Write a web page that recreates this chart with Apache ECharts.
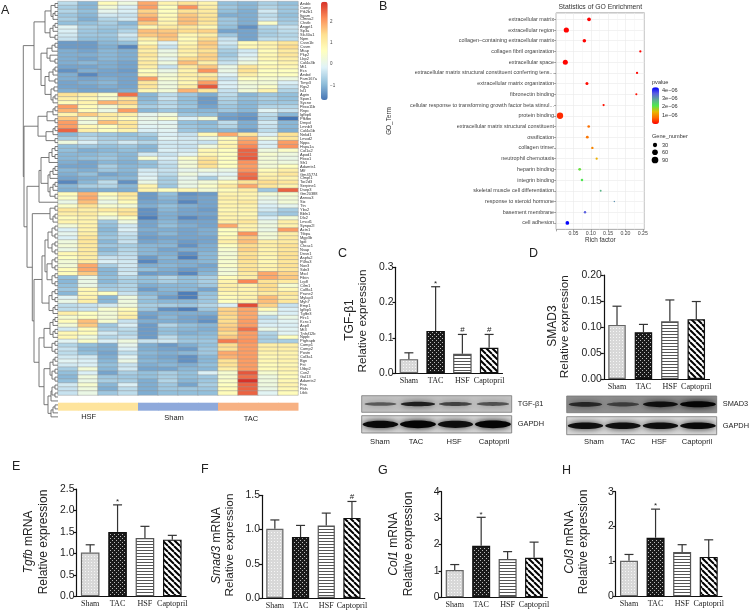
<!DOCTYPE html>
<html><head><meta charset="utf-8">
<style>html,body{margin:0;padding:0;background:#fff}#c{width:753px;height:612px}</style>
<script src="https://cdn.jsdelivr.net/npm/echarts@6/dist/echarts.min.js"></script>
</head><body><div id="c"></div>
<script>
// ---------- data ----------
const genes=["Arsbb","Camp","Ptk2b1","Itgam","Clmsa2","Chstb","Angpt1","Sp3a","Slc40a1","Npm","Cssn1b","Cssm","Mtap","Pkp2","Lbp2","Col4a3b","Mt1","Ecs","Arsbd","Fam167a","Timp3","Rgs2","Isl1","Agrin","Spon1","Sycne","Fbxo11b","Rnpc","Igfbp6","Pfkfbn","Dmpd","Lmnb3","Col4a5b","Nnkd1","Lmod2","Nppa","Hspa1a","Col1a2","Apod1","Fbxo1","Sfr1","Adamts1","Mlf","Gm45774","Clmpl1","Tor2d3","Serpine1","Dsep3","Gm20388","Annxa3","Six","Ttn","Ybx2","Bbln1","Dlx2","Lmcd1","Synpo2l","Actn1","Ttbpa","Mgp3b","Igdi","Chrac1","Nsap","Dnsn1","Aspfa2","P4ha3","Nov3","Sdn3","Mscl","Fibin","Lrp8","Cilm1","Col8a1","Prune2","Mylap3","Myh7","Emp1","Igfbp5","Tgfbr3","Flrc1","Kcnc1","Aspll","Mt3","Tnfsf12b","Nppb","Ptgfrapb","Comp1","Comp2","Postn","Col3a1","Bgn","Fst","Utbp2","Cxn2","Gal13","Adamts2","Fns","Fbln","Ltbk"];
const heatRows=[
[-.5,-1.0,.7,.2,1.9,.9,1.3,.9,-.9,-1.0,-.7,-.9],
[-.7,-1.0,.3,-.2,2.0,.6,2.1,1.0,-.8,-1.0,-.6,-.8],
[-.6,-.9,.0,-.2,1.5,.6,1.3,1.1,-.9,-1.1,-.3,-.8],
[-.8,-1.0,-.3,-.4,1.7,.7,1.6,1.2,-1.1,-1.1,-.5,-.9],
[-.7,-1.1,-.6,-.3,2.0,.8,1.7,1.3,-.8,-1.1,-.4,-.8],
[-.9,-.9,-.7,-1.0,1.6,.9,1.7,1.2,-.8,-1.1,.5,-.7],
[-.1,-.7,-.8,-.8,.8,1.1,1.2,.8,-.9,-1.4,-.6,-.4],
[-.2,-.8,-.9,-.6,1.7,1.6,1.4,1.5,-1.2,-1.2,-.7,-.5],
[-.3,-.8,-.8,-.3,1.6,1.7,.8,1.0,-.8,-1.2,-.7,-.6],
[-.4,-.9,-.9,-.5,1.0,1.6,.7,1.4,-.4,-1.2,-.5,-.5],
[-1.3,-1.3,-1.0,-.9,.7,-.1,.8,1.6,-.3,.7,.9,1.2],
[-1.3,-1.3,-1.1,-1.5,1.2,-.4,1.0,1.5,-.5,.8,.9,1.4],
[-1.1,-1.2,-1.0,-1.1,1.0,.1,1.0,1.3,-.7,-.3,.7,1.1],
[-1.1,-1.1,-1.0,-1.1,1.2,.2,.9,1.5,-.8,-.2,.8,1.2],
[-1.1,-1.2,-1.0,-1.1,1.0,.0,1.4,1.5,-.6,.0,.8,1.0],
[-1.1,-1.0,-1.1,-1.2,1.1,.2,1.7,1.0,-.4,.2,.6,.9],
[-1.2,-1.2,-1.1,-1.2,1.0,-.4,1.1,1.6,.1,1.2,.8,.8],
[-1.4,-1.1,-1.2,-1.3,.6,.1,.9,2.1,.1,1.3,.6,.6],
[-1.1,-1.5,-1.2,-1.2,.8,.3,1.0,1.0,-.1,1.0,.6,.6],
[-1.1,-1.2,-1.1,-1.2,2.0,.4,.9,1.4,-.4,.6,.4,.2],
[-1.2,-1.1,-1.0,-1.2,1.2,.2,.8,2.0,-.2,.3,.3,-.2],
[-1.2,-1.2,-1.1,-1.2,1.2,.2,1.0,2.6,-.2,.2,.5,-.4],
[-1.1,-1.2,-1.2,-1.1,.8,.3,1.8,1.2,-.4,.3,.9,-.6],
[1.3,1.0,.5,2.4,-1.0,-.5,-.8,-1.1,-.5,-1.0,-.8,-.9],
[1.0,.8,.4,1.3,-1.0,-.4,-.9,-1.3,-.6,-.9,-.7,-.9],
[.7,.9,1.8,1.5,-.9,-.6,-.9,-1.3,-.7,-1.0,-.8,-.8],
[2.0,.7,.3,1.0,-.7,-.5,-.8,-1.2,-.8,-1.0,-.6,-.6],
[1.8,.7,.1,2.0,-1.0,-.8,-1.0,-1.0,-.8,-1.0,-.1,-.4],
[.9,1.6,1.1,1.0,.0,.2,-.8,-.9,-1.2,-1.3,-.5,-1.0],
[1.6,.4,1.0,.7,.1,.5,-.2,.3,-1.3,-1.4,-.6,-1.7],
[2.0,.2,1.7,1.2,.0,-.1,-.9,-1.0,-.5,-1.1,-.3,-1.0],
[2.0,.8,.6,1.2,-.1,.0,-.8,-.9,-.6,-1.1,-.4,-1.0],
[2.5,1.0,.6,.9,-.2,-.1,-.8,-1.0,-1.0,-1.3,-.5,-1.1],
[-1.0,-.7,-.8,-.9,-.7,-.2,-.4,.8,1.9,1.2,-.2,1.3],
[-.7,-.5,-.7,-.8,-.9,-.1,-.3,.1,.7,1.8,.3,1.2],
[.2,-.2,-.6,-.3,-.6,-.3,-.3,-.4,.8,2.0,-.2,2.0],
[-.9,-.8,-.9,-.8,-1.0,-.3,-.4,.2,.9,2.2,-.2,2.1],
[-.9,-1.1,-1.0,-.9,-1.0,-.2,-.3,.8,.6,2.5,.2,.5],
[-1.0,-1.0,-.9,-1.0,-.3,-.4,-.1,.8,.6,2.5,.4,.2],
[-1.0,-.9,-.8,-1.0,.4,-.2,.5,1.2,.6,2.6,.3,.1],
[-1.1,-1.2,-1.0,-1.1,-.9,-.4,.3,1.4,.6,2.1,.3,.2],
[-1.2,-1.2,-.7,-1.0,-.9,-.5,.3,1.3,.6,2.0,.3,.6],
[-1.0,-1.1,-.8,-1.0,-.3,-.4,.0,.2,.1,2.1,.7,1.0],
[-1.1,-.9,-1.2,-1.1,-.2,-.5,.2,-.1,-.1,2.4,.9,1.2],
[-1.2,-1.1,-1.0,-1.0,-.1,-.7,.0,-.7,.1,2.5,1.0,.9],
[-1.5,-1.0,-.5,-1.4,.1,-.7,.1,.3,.7,1.3,1.4,1.2],
[-1.0,-.7,-.6,-1.0,.9,-.8,.1,.5,1.1,1.9,1.2,.9],
[-1.1,-1.1,-1.1,-1.1,.9,.6,.8,.3,.7,1.0,-.8,2.5],
[.7,1.8,.7,1.2,-1.3,-.9,-1.4,-1.3,.9,.9,.3,.4],
[.5,1.9,.4,1.0,-1.3,-1.0,-1.3,-1.2,1.0,.9,.1,.3],
[.1,1.7,.1,.7,-1.2,-1.1,-1.5,-1.2,.9,1.1,.0,.3],
[.5,1.3,.4,.3,-1.1,-.9,-1.1,-1.2,.9,.9,-.2,.0],
[1.2,1.0,1.1,1.2,-1.4,-1.0,-1.2,-1.3,.8,.9,-.3,-.7],
[1.0,1.1,.7,1.3,-1.4,-1.1,-1.2,-1.2,.9,.8,-.6,-.8],
[.7,.9,.2,.6,-1.6,-1.1,-1.5,-1.3,.9,.9,-.2,.3],
[.9,.9,-.8,.2,-1.2,-1.0,-1.2,-1.2,1.0,1.2,.1,1.0],
[.3,.9,-.9,-.3,-1.2,-.9,-1.1,-1.2,1.9,.9,.2,.9],
[-.2,.9,-1.0,-.2,-1.1,-1.1,-1.2,-1.1,.6,.9,.1,2.0],
[.0,1.0,-.9,-.4,-1.2,-1.0,-1.2,-1.1,.6,2.1,.3,1.0],
[-.2,1.2,-.8,-.5,-1.3,-1.2,-1.2,-1.2,.8,1.6,.3,1.1],
[.2,1.2,-1.0,-.4,-1.2,-1.1,-1.3,-1.2,1.0,1.7,1.0,1.1],
[.3,1.1,-.8,-.7,-1.0,-1.0,-1.4,-1.1,.6,1.4,1.0,1.3],
[.1,1.1,-1.0,-.6,-1.0,-1.2,-1.1,-1.1,.4,1.5,.9,1.2],
[.8,1.1,-.8,-.5,-1.0,-1.1,-1.4,-1.0,.3,1.3,.9,1.3],
[.6,1.0,-.4,-.4,-1.3,-1.0,-1.6,-1.0,.4,1.4,.8,1.3],
[.3,1.1,-.2,-.3,-1.5,-1.1,-1.1,-1.0,.4,1.3,.8,1.2],
[.3,1.9,-.7,-.3,-1.1,-1.0,-1.1,-1.2,.5,1.2,.9,1.3],
[.7,1.9,-1.0,-.4,-.9,-1.1,-1.3,-1.1,.3,1.3,.9,1.2],
[.7,1.6,-1.0,-.3,-1.3,-1.2,-1.5,-1.0,.3,1.1,1.9,1.5],
[-.9,.1,-.9,-.6,-.9,-.6,-.9,-.7,.7,1.0,1.9,1.6],
[-1.0,.1,-1.0,-.7,-.9,-.7,-.9,-.7,.9,2.2,1.3,1.1],
[-.9,.1,-.8,-.6,-1.1,-1.0,-1.0,-.8,1.0,.9,1.4,.4],
[-.8,.8,-.7,-.6,-1.3,-1.0,-1.0,-1.2,1.0,.9,1.4,.8],
[-1.0,.8,.6,-.4,-1.0,-1.1,-1.6,-.9,.8,.9,1.1,1.2],
[-.1,.9,-1.0,.2,-.8,-1.3,-1.6,-.8,.7,.9,1.7,1.0],
[.1,1.0,-1.0,.2,-.9,-1.0,-1.0,-.8,.6,.9,1.7,1.2],
[-.5,-.4,-.3,.2,-.7,-.7,-.8,-.6,-.2,2.7,1.5,-.4],
[-.5,-.4,.4,.7,-.8,-1.4,-1.6,-.8,1.5,1.9,.7,-.2],
[1.0,.6,.3,.9,-1.2,-1.1,-1.1,-1.1,1.5,1.9,.2,-.2],
[.4,.6,.3,1.0,-1.3,-1.0,-1.2,-1.3,1.4,1.9,-.5,.1],
[.7,1.7,.4,-.4,-1.1,-1.1,-1.2,-1.4,1.4,2.0,-.3,-.1],
[.3,1.6,-.8,-.2,-1.3,-.6,-.9,-1.0,1.5,2.0,-.2,-.2],
[-.3,.7,-.7,-.5,-1.3,-.9,-1.0,-1.1,1.6,2.4,.1,-.1],
[.8,.7,-.3,-.6,-1.3,-.9,-1.1,-1.0,1.4,2.0,-.6,-.1],
[.8,.2,-.6,-.4,-1.3,-.5,-.9,-.9,1.6,2.0,-.7,.6],
[-.1,.5,-.2,.2,-.4,-.3,-.8,-.8,2.3,2.1,-.7,-.7],
[-.6,-.9,-1.1,.0,-1.1,-1.3,-1.1,-.9,1.4,2.0,1.0,1.0],
[-.4,-1.0,-1.1,-.2,-1.1,-1.2,-1.3,-.8,1.3,2.0,1.0,1.0],
[-.5,-.9,-1.2,-.5,-1.0,-1.1,-1.0,-.8,1.9,2.0,.9,.9],
[-.3,-.3,-1.1,-.1,-1.1,-1.2,-1.4,-1.0,1.8,2.0,.8,.9],
[-.1,-.2,-1.0,.1,-1.0,-1.1,-1.4,-1.0,1.3,2.0,.8,.9],
[-.3,-.2,-.9,-.4,-1.1,-1.0,-1.1,-.9,1.3,2.0,.7,.8],
[-.7,.3,-1.0,-.3,-1.2,-1.2,-1.0,-1.0,1.0,2.0,.7,.9],
[-.9,-.2,-1.2,-.7,-.9,-.7,-.9,-.2,.4,2.6,.4,.8],
[-1.0,.2,-.8,-.8,-.9,-.7,-.9,-.8,.4,2.4,.2,.7],
[-.9,.1,-.7,-.7,-1.1,-.6,-1.0,-.8,.5,2.9,.2,.8],
[-.3,.4,-1.0,-.2,-1.1,-.8,-1.2,-.7,.6,2.5,.2,.9],
[-.4,.2,-1.1,-.5,-1.1,-.8,-.8,-.8,.7,2.5,.1,.8],
[-.4,.1,-.8,-.5,-1.1,-.9,-.9,-.9,.7,2.5,-.1,.7]];
const heatColumnGroups=["HSF","HSF","HSF","HSF","Sham","Sham","Sham","Sham","TAC","TAC","TAC","TAC"];
// dendrogram: [height, childA, childB]; 0 is a leaf
const P=[3,0,0],T=[5,P,0],Q=[6,P,P];
const dendroTree=[34.7,
 [24,[13,[7,P,T],[8,T,P]],[17,[11,[6,P,0],[8,0,P]],[13,[9,T,P],[7,[4,0,0],T]]]],
 [34,[20,[11,T,P],[12,T,P]],
  [31,[19,[17,[9,Q,0],[10,[8,T,0],[8,T,P]]],0],
   [25.7,[8,P,T],
    [24,[16,[13,[10,Q,Q],[11,Q,Q]],[9,Q,T]],
        [19,[14,[8,T,T],Q],[14,[8,T,Q],[10,[7,Q,0],[7,T,0]]]]]]]]];

const goTerms=["extracellular matrix","extracellular region","collagen−containing extracellular matrix","collagen fibril organization","extracellular space","extracellular matrix structural constituent conferring tens...","extracellular matrix organization","fibronectin binding","cellular response to transforming growth factor beta stimul...","protein binding","extracellular matrix structural constituent","ossification","collagen trimer","neutrophil chemotaxis","heparin binding","integrin binding","skeletal muscle cell differentiation","response to steroid hormone","basement membrane","cell adhesion"];
const richFactor=[.095,.0295,.0815,.243,.0266,.2335,.089,.2315,.137,.0113,.094,.09,.1046,.117,.068,.0747,.1286,.168,.0834,.0324];
const pValue=[1e-8,2e-8,2e-8,3e-8,3e-8,5e-8,8e-8,1e-7,1.2e-7,3e-7,8e-7,8.5e-7,1e-6,1.4e-6,2.1e-6,2.25e-6,2.8e-6,3.2e-6,3.7e-6,4.4e-6];
const geneNumber=[38,75,35,14,70,14,25,12,14,110,20,22,16,14,22,18,10,6,16,38];
const pvalueTicks=["4e−06","3e−06","2e−06","1e−06"];
const geneLegend=[30,60,90];

const groups=["Sham","TAC","HSF","Captopril"];
const tgfbProtMean=[.04,.12,.055,.072],tgfbProtUp=[.058,.245,.11,.11];
const smad3ProtMean=[.104,.09,.111,.115],smad3ProtUp=[.14,.105,.152,.149];
const tgfbMean=[1.02,1.5,1.36,1.32],tgfbUp=[1.2,2.13,1.63,1.42];
const smad3Mean=[1.01,.89,1.06,1.17],smad3Up=[1.14,1.06,1.24,1.41];
const col1Mean=[1.03,1.95,1.45,1.5],col1Up=[1.24,3.03,1.73,2.09];
const col3Mean=[1.02,1.68,1.27,1.13],col3Up=[1.2,2.5,1.48,1.62];
const marksC=["","*","#","#"],marksNone=["","","",""],marksStar=["","*","",""],marksF=["","","","#"];
const blotTgf=[.35,.75,.5,.4],blotGapdhC=[.95,1,.9,1],blotSmad=[.6,.4,.85,1],blotGapdhD=[.9,.9,.9,.95];

// ---------- helpers ----------
const SANS='"Liberation Sans",Arial,sans-serif',SERIF='"Liberation Serif","Times New Roman",serif';
function pat(w,h,draw){const c=document.createElement('canvas');c.width=w;c.height=h;const x=c.getContext('2d');x.fillStyle='#fff';x.fillRect(0,0,w,h);draw(x);return {image:c,repeat:'repeat'};}
const fills=[
 pat(3,3,x=>{x.fillStyle='#d8d8d8';x.fillRect(0,0,3,3);x.fillStyle='#f6f6f6';x.fillRect(1,1,1,1);}),
 pat(4,4,x=>{x.fillStyle='#1a1a1a';x.fillRect(0,0,4,4);x.fillStyle='#bbb';x.fillRect(0,0,1,1);x.fillRect(2,2,1,1);}),
 pat(3,3,x=>{x.fillStyle='#555';x.fillRect(0,1,3,1);}),
 pat(6,6,x=>{x.strokeStyle='#000';x.lineWidth=2;for(let i=-6;i<=12;i+=6){x.beginPath();x.moveTo(i,0);x.lineTo(i+6,6);x.stroke();}})
];
const borders=['#666','#111','#555','#111'];

const grid=[],xAxis=[],yAxis=[],series=[],graphic=[];
function addAxes(g,xa,ya){const i=grid.length;grid.push(g);xAxis.push(Object.assign({gridIndex:i},xa));yAxis.push(Object.assign({gridIndex:i},ya));return i;}
function t(x,y,text,o){graphic.push({type:'text',x,y,silent:true,rotation:(o&&o.rot)?Math.PI/2:0,style:Object.assign({text,fontFamily:SANS,fontSize:11,fill:'#222',align:'left',verticalAlign:'middle',textAlign:'left',textVerticalAlign:'middle'},o||{})});}
function vt(x,y,text,size){t(x,y,text,{rot:1,align:'center',textAlign:'center',fontSize:size||12,fill:'#222',
  rich:{i:{fontStyle:'italic',fontFamily:SANS,fontSize:size||12,fill:'#222'},n:{fontFamily:SANS,fontSize:size||12,fill:'#222'}}});}

// ---------- A: heatmap ----------
const heatTop=1.5,heatH=393.5;
const colNames=heatColumnGroups.map((g,i)=>g+(i+1));
const h0=addAxes({left:58,width:240,top:heatTop,height:heatH},
 {type:'category',data:colNames,show:false},
 {type:'category',data:genes,inverse:true,position:'right',axisLine:{show:false},axisTick:{show:false},
  axisLabel:{interval:0,fontSize:4,fontFamily:SANS,color:'#333',margin:2}});
const heatData=[];heatRows.forEach((row,r)=>row.forEach((v,c)=>heatData.push([c,r,v])));
series.push({type:'heatmap',xAxisIndex:h0,yAxisIndex:h0,data:heatData,itemStyle:{borderColor:'#999',borderWidth:.5},silent:true,progressive:0,animation:false});

// dots series reserved index 1
const dotIdxPlaceholder=series.length;series.push(null);

// dendrogram
const segs=[];let leaf=0;
(function walk(n){if(n===0){return [0,(leaf++)+.5];}
 const kids=n.slice(1).map(walk);const h=n[0];
 kids.forEach(k=>segs.push([k[0],k[1],h,k[1]]));
 const ys=kids.map(k=>k[1]);segs.push([h,Math.min(...ys),h,Math.max(...ys)]);
 return [h,(ys[0]+ys[ys.length-1])/2];})(dendroTree);
const d0=addAxes({left:23,width:35,top:heatTop,height:heatH},
 {type:'value',min:0,max:35,inverse:true,show:false},
 {type:'value',min:0,max:99,inverse:true,show:false});
series.push({type:'custom',xAxisIndex:d0,yAxisIndex:d0,data:segs,silent:true,
 renderItem(p,api){const a=api.coord([api.value(0),api.value(1)]),b=api.coord([api.value(2),api.value(3)]);
  return {type:'line',shape:{x1:a[0],y1:a[1],x2:b[0],y2:b[1]},style:{stroke:'#6a6a6a',lineWidth:.9}};}});

// annotation strip
const groupColor={HSF:'#FEE49C',Sham:'#8EA9DB',TAC:'#F7B183'};
const a0=addAxes({left:58,width:240,top:402.7,height:8},
 {type:'category',data:colNames,show:false},{type:'value',min:0,max:1,show:false});
series.push({type:'custom',xAxisIndex:a0,yAxisIndex:a0,data:heatColumnGroups.map((g,i)=>[i,1,g]),silent:true,
 renderItem(p,api){const c=api.coord([api.value(0),1]),w=api.size([1,0])[0],b=api.coord([api.value(0),0]);
  const gn=heatColumnGroups[api.value(0)];
  return {type:'rect',shape:{x:c[0]-w/2,y:c[1],width:w+.5,height:b[1]-c[1]},style:{fill:groupColor[gn]}};}});
t(88.7,417,'HSF',{fontSize:7.5,align:'center',textAlign:'center'});
t(174,418,'Sham',{fontSize:7.5,align:'center',textAlign:'center'});
t(251,419,'TAC',{fontSize:7.5,align:'center',textAlign:'center'});
[['2',21.3],['1',42.7],['0',64],['−1',85.3]].forEach(a=>t(330,a[1],a[0],{fontSize:4.5,fill:'#444'}));

// ---------- B: dot plot ----------
const b0=addAxes({left:556.1,width:88.4,top:12.87,height:216.5,show:true,borderColor:'#aaa',borderWidth:1,backgroundColor:'#fff'},
 {type:'value',min:0,max:.255,interval:.05,position:'bottom',
  axisLine:{show:false,onZero:false},axisTick:{show:true,length:2,lineStyle:{color:'#666',width:.6}},
  axisLabel:{fontSize:5.2,fontFamily:SANS,color:'#444',margin:2,formatter:v=>v===0?'':v.toFixed(2)},
  splitLine:{show:true,lineStyle:{color:'#eaeaea',width:.6}},
  minorTick:{show:false,splitNumber:2},minorSplitLine:{show:true,lineStyle:{color:'#f3f3f3',width:.5}}},
 {type:'value',min:-.6,max:19.6,inverse:true,
  axisLine:{show:false,onZero:false},
  axisTick:{show:true,length:2,customValues:goTerms.map((_,i)=>i),lineStyle:{color:'#666',width:.6}},
  axisLabel:{customValues:goTerms.map((_,i)=>i),fontSize:5.45,fontFamily:SANS,color:'#444',margin:2,formatter:v=>goTerms[Math.round(v)]||''},
  splitLine:{show:true,lineStyle:{color:'#eaeaea',width:.6}}});
series[dotIdxPlaceholder]={type:'scatter',xAxisIndex:b0,yAxisIndex:b0,silent:true,
 data:goTerms.map((g,i)=>[richFactor[i],i,pValue[i],geneNumber[i]]),
 symbolSize:v=>0.6*Math.sqrt(v[3]),itemStyle:{opacity:1}};
t(600.3,6.7,'Statistics of GO Enrichment',{fontSize:6.8,align:'center',textAlign:'center',fill:'#333'});
t(600.3,240.5,'Rich factor',{fontSize:6.4,align:'center',textAlign:'center',fill:'#333'});
t(389,121,'GO_Term',{rot:1,fontSize:6.4,align:'center',textAlign:'center',fill:'#333'});
t(652,82,'pvalue',{fontSize:5.6,fill:'#333'});
pvalueTicks.forEach((s,i)=>t(662,[90.7,98.8,106.9,115][i],s,{fontSize:5.6,fill:'#333'}));
t(652,136.7,'Gene_number',{fontSize:5.6,fill:'#333'});
geneLegend.forEach((n,i)=>{const y=[145,152.3,160][i];
 graphic.push({type:'circle',shape:{cx:655,cy:y,r:.3*Math.sqrt(n)+.5},style:{fill:'#000'},silent:true});
 t(662,y,String(n),{fontSize:5.6,fill:'#333'});});

// ---------- bar panels ----------
function barPanel(o){
 const g=addAxes({left:o.l,width:o.r-o.l,top:o.top,height:o.y0-o.top},
 {type:'category',data:groups,axisLine:{lineStyle:{color:'#111',width:1.2},onZero:true},axisTick:{show:false},
  axisLabel:{interval:0,fontFamily:SERIF,fontSize:8.1,color:'#222',margin:4,hideOverlap:false}},
 {type:'value',min:0,max:o.max,interval:o.step,splitLine:{show:false},
  axisLine:{show:true,lineStyle:{color:'#111',width:1.2}},axisTick:{show:true,length:3,lineStyle:{color:'#111',width:1.2}},
  axisLabel:{fontFamily:SANS,fontSize:10.4,color:'#222',margin:2,formatter:v=>v.toFixed(o.dec)}});
 series.push({type:'bar',xAxisIndex:g,yAxisIndex:g,barWidth:o.bw,silent:true,
  data:o.mean.map((v,i)=>({value:v,itemStyle:{color:fills[i],borderColor:borders[i],borderWidth:1.2}}))});
 series.push({type:'custom',xAxisIndex:g,yAxisIndex:g,silent:true,z:3,
  data:o.mean.map((v,i)=>[i,o.up[i],v]),
  renderItem(p,api){const i=api.value(0),a=api.coord([i,api.value(1)]),b=api.coord([i,api.value(2)]),m=o.marks[i];
   const kids=[{type:'line',shape:{x1:a[0],y1:a[1],x2:b[0],y2:b[1]},style:{stroke:'#333',lineWidth:1.2}},
    {type:'line',shape:{x1:a[0]-4.5,y1:a[1],x2:a[0]+4.5,y2:a[1]},style:{stroke:'#333',lineWidth:1.2}}];
   if(m)kids.push({type:'text',x:a[0],y:a[1]-(m==='*'?-1:1),style:{text:m,align:'center',verticalAlign:'bottom',fontFamily:SANS,fontSize:8,fill:'#222'}});
   return {type:'group',children:kids};}});
}
barPanel({l:395.5,r:502.5,top:267.3,y0:373.3,max:.3,step:.1,dec:1,bw:18.5,mean:tgfbProtMean,up:tgfbProtUp,marks:marksC});
barPanel({l:603.8,r:709.5,top:275,y0:379,max:.2,step:.05,dec:2,bw:17.5,mean:smad3ProtMean,up:smad3ProtUp,marks:marksNone});
barPanel({l:76.5,r:186,top:489,y0:596.3,max:2.5,step:.5,dec:1,bw:18.6,mean:tgfbMean,up:tgfbUp,marks:marksStar});
barPanel({l:262,r:364.8,top:495.3,y0:598,max:1.5,step:.5,dec:1,bw:17.2,mean:smad3Mean,up:smad3Up,marks:marksF});
barPanel({l:441.5,r:547.3,top:491.7,y0:597.3,max:4,step:1,dec:0,bw:18,mean:col1Mean,up:col1Up,marks:marksStar});
barPanel({l:615.7,r:722,top:491.7,y0:596.3,max:3,step:1,dec:0,bw:18,mean:col3Mean,up:col3Up,marks:marksStar});

vt(350,320,'TGF-β1',12);vt(362.7,321,'Relative expression',11.8);
vt(552.5,326,'SMAD3',12);vt(565,326.7,'Relative expression',11.8);
vt(29,542,'{i|Tgfb}{n| mRNA}',12);vt(44,542,'Relative expression',12);
vt(216.7,545.5,'{i|Smad3}{n| mRNA}',12);vt(230,545,'Relative expression',11.8);
vt(394,544,'{i|Col1}{n| mRNA}',12);vt(408.3,544,'Relative expression',12);
vt(569.3,542,'{i|Col3}{n| mRNA}',12);vt(583.3,542,'Relative expression',12);

// ---------- western blots ----------
function blot(l,top,w,h,vals,bg,ry,lab){
 const g=addAxes({left:l,width:w,top,height:h,show:true,backgroundColor:bg,borderColor:'#777',borderWidth:.8},
  {type:'category',data:groups,show:false},{type:'value',min:0,max:1,show:false});
 series.push({type:'custom',xAxisIndex:g,yAxisIndex:g,silent:true,clip:true,z:3,
  data:vals.map((v,i)=>[i,.5,v]),
  renderItem(p,api){const c=api.coord([api.value(0),.5]),v=api.value(2);
   return {type:'ellipse',shape:{cx:c[0],cy:c[1],rx:15+3*v,ry:ry*(.55+.45*v)},
    style:{fill:'rgba(5,5,5,'+(.25+.75*v)+')',shadowBlur:6,shadowColor:'rgba(0,0,0,'+(.3+.6*v)+')'}};}});
 t(l+w+6,top+h/2,lab,{fontSize:7.4,fill:'#222'});
}
blot(361.7,395.7,150,16.6,blotTgf,'#c2c2c2',2.6,'TGF-β1');
blot(361.7,415.7,150,17.3,blotGapdhC,'#d8d8d8',3.8,'GAPDH');
blot(566.7,396,150,16.7,blotSmad,'#8e8e8e',3,'SMAD3');
blot(566.7,416.7,150,18,blotGapdhD,'#dadada',3.4,'GAPDH');
[[380,416,454,494],[594,628,659,697]].forEach((xs,k)=>groups.forEach((g,i)=>
 t(xs[i],k?442:441.5,g,{fontSize:7.6,align:'center',textAlign:'center',fill:'#222'})));

// panel letters
[['A',1,10.5],['B',379,6.5],['C',338,254],['D',529,254],['E',12,467],['F',201,470],['G',378,471],['H',562,471]].forEach(a=>
 t(a[1],a[2],a[0],{fontSize:12.5,fill:'#222'}));

const option={animation:false,backgroundColor:'#fff',grid,xAxis,yAxis,series,
 visualMap:[
  {type:'continuous',seriesIndex:0,dimension:2,min:-1.69,max:2.92,left:321,top:1.7,itemWidth:6.7,itemHeight:98.3,padding:0,
   calculable:false,hoverLink:false,text:null,
   inRange:{color:['#4575B4','#91BFDB','#E0F3F8','#FFFFBF','#FEE090','#FC8D59','#D73027']}},
  {type:'continuous',seriesIndex:1,dimension:2,min:0,max:4.45e-6,left:652,top:87.3,itemWidth:7,itemHeight:36.7,padding:0,
   calculable:false,hoverLink:false,text:null,
   inRange:{color:['#ff0000','#ff6a00','#e8b800','#4fe84f','#5fa89a','#5a5fe0','#0000ff']}}],
 graphic:{elements:graphic}};
echarts.init(document.getElementById('c'),null,{renderer:'canvas'}).setOption(option);
</script></body></html>
